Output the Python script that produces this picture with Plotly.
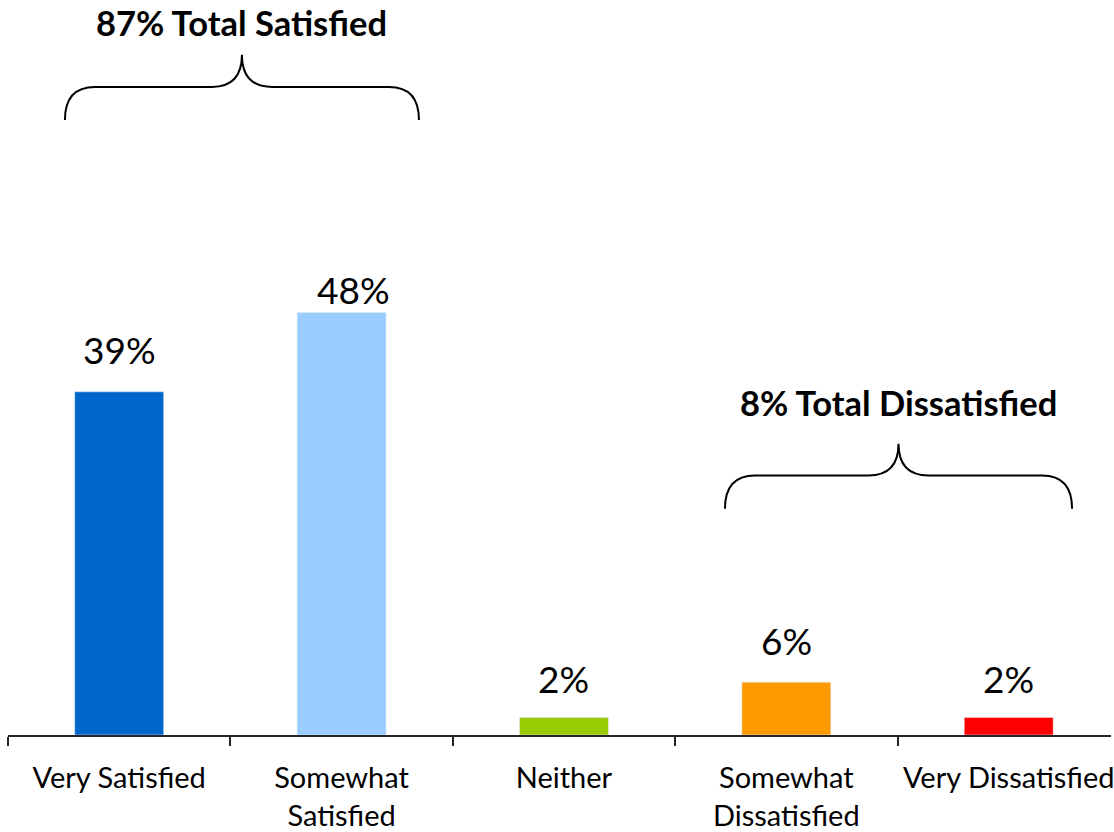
import plotly.graph_objects as go

# Survey satisfaction results
categories = ["Very Satisfied", "Somewhat<br>Satisfied", "Neither",
              "Somewhat<br>Dissatisfied", "Very Dissatisfied"]
values = [39, 48, 2, 6, 2]
value_labels = ["39%", "48%", "2%", "6%", "2%"]
group_titles = ["87% Total Satisfied", "8% Total Dissatisfied"]

colors = ["#0066CC", "#99CCFF", "#99CC00", "#FF9900", "#FF0000"]
# pixel offsets of each value label from its bar top (x, y)
label_shift = [(0, 42), (12, 23), (0, 39), (0, 42), (0, 39)]

FONT = "Lato"
Y_MAX = 80
X_RANGE = [-0.5, 4.46]

fig = go.Figure(go.Bar(
    x=categories, y=values, marker_color=colors, width=0.4,
    hoverinfo="skip",
))

for cat, v, txt, (dx, dy) in zip(categories, values, value_labels, label_shift):
    fig.add_annotation(x=cat, y=v, text=txt, showarrow=False,
                       xanchor="center", yanchor="middle",
                       xshift=dx, yshift=dy,
                       font=dict(family=FONT, size=37, color="#000000"))


def brace_path(x0, x1, y_end, y_body, y_tip, r):
    """Curly brace opening downward, in data units (category index, percent)."""
    xm = (x0 + x1) / 2
    return (f"M {x0},{y_end} Q {x0},{y_body} {x0 + r},{y_body} "
            f"L {xm - r},{y_body} Q {xm},{y_body} {xm},{y_tip} "
            f"Q {xm},{y_body} {xm + r},{y_body} "
            f"L {x1 - r},{y_body} Q {x1},{y_body} {x1},{y_end}")


braces = [
    dict(x0=-0.244, x1=1.348, y_end=69.9, y_body=73.65, y_tip=77.3, title_y=81.0),
    dict(x0=2.724, x1=4.285, y_end=25.7, y_body=29.5, y_tip=33.1, title_y=37.8),
]

for b, title in zip(braces, group_titles):
    fig.add_shape(type="path", xref="x", yref="y",
                  path=brace_path(b["x0"], b["x1"], b["y_end"], b["y_body"],
                                  b["y_tip"], 0.135),
                  line=dict(color="#000000", width=2))
    xm = (b["x0"] + b["x1"]) / 2
    fig.add_annotation(x=(xm - X_RANGE[0]) / (X_RANGE[1] - X_RANGE[0]),
                       y=b["title_y"] / Y_MAX, xref="paper", yref="paper",
                       text=f"<b>{title}</b>", showarrow=False,
                       xanchor="center", yanchor="middle",
                       font=dict(family=FONT, size=34.5, color="#000000"))

fig.update_layout(
    width=1114, height=832,
    margin=dict(l=8, r=0, t=31, b=95),
    paper_bgcolor="#FFFFFF", plot_bgcolor="#FFFFFF",
    showlegend=False,
)
fig.update_xaxes(
    type="category", range=X_RANGE,
    showline=True, linecolor="#262626", linewidth=2,
    ticks="outside", tickson="boundaries", ticklen=9, tickwidth=2, tickcolor="#262626",
    tickfont=dict(family=FONT, size=29, color="#000000"),
    ticklabelstandoff=16,
    showgrid=False, zeroline=False,
)
fig.update_yaxes(range=[0, Y_MAX], visible=False, showgrid=False, zeroline=False)

fig.write_html("out.html")
